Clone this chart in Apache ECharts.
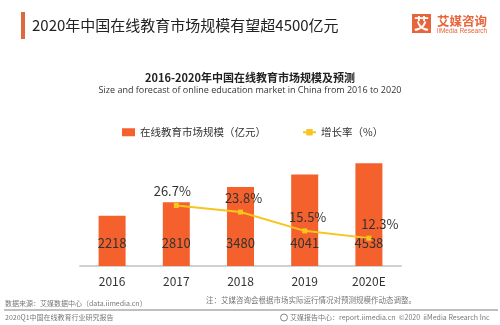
<!DOCTYPE html>
<html>
<head>
<meta charset="utf-8">
<script src="https://cdn.jsdelivr.net/npm/echarts@6/dist/echarts.min.js"></script>
<style>
html,body{margin:0;padding:0;background:#fff;}
#c{width:500px;height:325px;}
</style>
</head>
<body>
<div id="c"></div>
<script>
var categories = ['2016', '2017', '2018', '2019', '2020E'];
var marketSize = [2218, 2810, 3480, 4041, 4538];
var growthRate = [null, 26.7, 23.8, 15.5, 12.3];
var barName = '在线教育市场规模（亿元）';
var lineName = '增长率（%）';

var FONT = '"Noto Sans CJK SC", "Noto Sans", sans-serif';
var rateLabelOffsets = [[0, 0], [-4, 0], [3, 0], [3, 0], [11, 0]];

var chart = echarts.init(document.getElementById('c'), null, {renderer: 'canvas'});
chart.setOption({
  backgroundColor: '#ffffff',
  textStyle: {fontFamily: FONT},
  animation: false,
  title: {
    text: '2016-2020年中国在线教育市场规模及预测',
    subtext: 'Size and forecast of online education market in China from 2016 to 2020',
    left: 'center',
    top: 67,
    itemGap: 3,
    textStyle: {fontSize: 11, fontWeight: 'bold', color: '#222', fontFamily: FONT},
    subtextStyle: {fontSize: 9, color: '#333', fontFamily: '"Liberation Sans Narrow", "Open Sans", sans-serif'}
  },
  legend: {
    left: 117,
    top: 122,
    itemGap: 36,
    itemWidth: 13,
    itemHeight: 8,
    textStyle: {fontSize: 10.5, color: '#333', fontFamily: FONT},
    data: [
      {name: barName, icon: 'rect'},
      {name: lineName}
    ]
  },
  grid: {left: 80, right: 99, top: 130, bottom: 59},
  xAxis: {
    type: 'category',
    data: categories,
    axisLine: {lineStyle: {color: '#d0d0d0', width: 2}},
    axisTick: {show: false},
    axisLabel: {fontSize: 12, color: '#333', margin: 9, fontFamily: FONT}
  },
  yAxis: [
    {type: 'value', min: 0, max: 6000, show: false, splitLine: {show: false}},
    {type: 'value', min: 0, max: 60, show: false, splitLine: {show: false}}
  ],
  series: [
    {
      name: barName,
      type: 'bar',
      data: marketSize,
      barWidth: 27,
      itemStyle: {color: '#F4612C'},
      label: {
        show: true,
        position: 'insideBottom',
        distance: 16,
        fontSize: 13,
        color: '#333',
        fontFamily: FONT
      }
    },
    {
      name: lineName,
      type: 'line',
      yAxisIndex: 1,
      data: growthRate.map(function (v, i) {
        return {value: v, label: {offset: rateLabelOffsets[i]}};
      }),
      symbol: 'rect',
      symbolSize: 5,
      itemStyle: {color: '#F7C51E'},
      lineStyle: {color: '#F7C51E', width: 2},
      label: {
        show: true,
        position: 'top',
        distance: 5,
        fontSize: 13,
        color: '#333',
        fontFamily: FONT,
        formatter: function (p) { return p.value + '%'; }
      }
    }
  ],
  graphic: [
    {type: 'rect', shape: {x: 21, y: 12, width: 4, height: 27}, style: {fill: '#DD6A3E'}},
    {type: 'text', x: 32, y: 25, style: {text: '2020年中国在线教育市场规模有望超4500亿元', fontSize: 15, fill: '#222', fontFamily: FONT, verticalAlign: 'middle'}},
    {type: 'rect', shape: {x: 412, y: 14, width: 19, height: 19}, style: {fill: '#E8643A'}},
    {type: 'text', x: 421.5, y: 23.5, style: {text: '艾', fontSize: 15, fontWeight: 'bold', fill: '#fff', fontFamily: FONT, align: 'center', verticalAlign: 'middle'}},
    {type: 'text', x: 437, y: 21, style: {text: '艾媒咨询', fontSize: 12.5, fontWeight: 'bold', fill: '#E8643A', fontFamily: FONT, verticalAlign: 'middle'}},
    {type: 'text', x: 437, y: 31.5, style: {text: 'iiMedia Research', fontSize: 6.5, fill: '#E8643A', fontFamily: '"Liberation Sans", sans-serif', verticalAlign: 'middle'}},
    {type: 'text', x: 5, y: 303, style: {text: '数据来源：艾媒数据中心（data.iimedia.cn）', fontSize: 7, fill: '#777', fontFamily: FONT, verticalAlign: 'middle'}},
    {type: 'text', x: 206, y: 300, style: {text: '注：艾媒咨询会根据市场实际运行情况对预测规模作动态调整。', fontSize: 7.5, fill: '#777', fontFamily: FONT, verticalAlign: 'middle'}},
    {type: 'line', shape: {x1: 4, y1: 310, x2: 498, y2: 310}, style: {stroke: '#aaa', lineWidth: 1.5}},
    {type: 'text', x: 5, y: 317.5, style: {text: '2020Q1中国在线教育行业研究报告', fontSize: 7, fill: '#777', fontFamily: FONT, verticalAlign: 'middle'}},
    {type: 'circle', shape: {cx: 284, cy: 317.5, r: 3.5}, style: {fill: 'none', stroke: '#888', lineWidth: 1}},
    {type: 'text', x: 290, y: 317.5, style: {text: '艾媒报告中心：report.iimedia.cn  ©2020  iiMedia Research Inc', fontSize: 7, fill: '#777', fontFamily: FONT, verticalAlign: 'middle'}}
  ]
});
</script>
</body>
</html>
